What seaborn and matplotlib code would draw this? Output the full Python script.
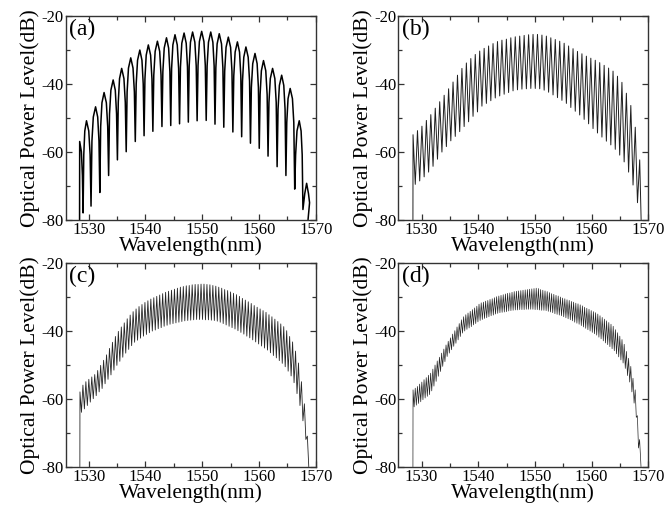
import numpy as np
import pandas as pd
import matplotlib
matplotlib.use("Agg")
import matplotlib.pyplot as plt
from matplotlib.ticker import MultipleLocator
import seaborn as sns

# ---------------- data ----------------
# (a) fringe peaks: wavelength (nm) and level (dB); troughs lie between peaks.
# Shoulder / flank levels are the arch levels read at 1/4 and 2/5 of a fringe from each peak.
a_peak_wl = [1528.4, 1529.6, 1531.2, 1532.7, 1534.3, 1535.8, 1537.4, 1539.0, 1540.5,
             1542.1, 1543.7, 1545.2, 1546.8, 1548.3, 1549.9, 1551.5, 1553.0, 1554.6,
             1556.2, 1557.7, 1559.3, 1560.8, 1562.4, 1564.0, 1565.5, 1567.1, 1568.4]
a_peak_db = [-57.0, -50.9, -46.8, -42.6, -38.9, -35.5, -32.4, -30.1, -28.6, -27.5,
             -26.5, -25.6, -25.1, -24.8, -24.6, -24.8, -25.3, -26.3, -27.7, -29.2,
             -31.1, -33.2, -35.5, -37.5, -41.4, -50.9, -69.3]
a_shoulder_db = [-60.0, -53.9, -49.8, -45.6, -41.9, -38.5, -35.4, -33.1, -31.6, -30.5,
                 -29.5, -28.6, -28.1, -27.8, -27.6, -27.8, -28.3, -29.3, -30.7, -32.2,
                 -34.1, -36.2, -38.5, -40.5, -44.4, -53.9, -72.3]
a_flank_db = [-67.0, -60.9, -56.8, -52.6, -48.9, -45.5, -42.4, -40.1, -38.6, -37.5,
              -36.5, -35.6, -35.1, -34.8, -34.6, -34.8, -35.3, -36.3, -37.7, -39.2,
              -41.1, -43.2, -45.5, -47.5, -51.4, -60.9, -75.0]
a_trough_db = [-78.0, -76.0, -72.0, -67.0, -62.4, -60.0, -57.0, -55.3, -54.0, -52.6,
               -52.3, -51.8, -51.3, -50.9, -50.8, -51.9, -52.8, -54.2, -55.6, -57.5,
               -59.0, -61.3, -64.4, -67.0, -71.0, -77.0]

# (b) first peak wavelength, fringe spacing, peak and trough levels
b_start, b_fsr = 1528.5, 0.784
b_peak_db = [-55.0, -53.8, -52.5, -50.8, -49.1, -47.2, -45.3, -43.4, -41.5, -39.5,
             -37.5, -35.5, -33.9, -32.6, -31.4, -30.4, -29.6, -28.9, -28.2, -27.6,
             -27.2, -26.9, -26.5, -26.2, -26.0, -25.8, -25.6, -25.5, -25.5, -25.7,
             -26.0, -26.5, -27.0, -27.5, -28.1, -28.9, -29.7, -30.5, -31.2, -31.9,
             -32.5, -33.1, -33.8, -34.6, -35.4, -36.3, -37.8, -39.6, -42.8, -46.4,
             -52.8, -62.4]
b_trough_db = [-69.6, -68.6, -67.4, -66.0, -64.3, -62.2, -60.1, -58.5, -56.8, -55.5,
               -54.1, -52.6, -51.2, -49.6, -48.3, -46.6, -45.8, -45.0, -44.2, -43.6,
               -43.1, -42.6, -42.1, -41.8, -41.6, -41.5, -41.4, -41.4, -41.5, -41.9,
               -42.5, -43.3, -44.1, -44.9, -45.8, -47.0, -48.1, -49.2, -50.5, -51.8,
               -53.2, -54.5, -55.7, -56.9, -58.0, -59.3, -61.0, -63.0, -66.0, -69.8,
               -75.0]

# (c)
c_start, c_fsr = 1528.45, 0.5205
c_peak_db = [-58.0, -56.0, -55.0, -54.3, -53.6, -52.9, -51.7, -50.2, -48.7, -47.1,
             -45.2, -43.4, -41.7, -40.2, -38.9, -37.7, -36.5, -35.4, -34.4, -33.6,
             -32.9, -32.3, -31.7, -31.2, -30.7, -30.3, -29.9, -29.5, -29.1, -28.7,
             -28.4, -28.1, -27.8, -27.5, -27.2, -27.0, -26.8, -26.7, -26.5, -26.4,
             -26.4, -26.3, -26.3, -26.4, -26.5, -26.7, -26.9, -27.2, -27.5, -27.9,
             -28.2, -28.6, -29.0, -29.4, -29.9, -30.5, -31.0, -31.5, -32.0, -32.6,
             -33.1, -33.6, -34.1, -34.6, -35.3, -35.9, -36.6, -37.3, -38.0, -38.8,
             -40.0, -41.7, -43.3, -46.0, -49.5, -55.0, -61.5, -71.0]
c_trough_db = [-64.0, -63.0, -62.0, -61.0, -60.0, -59.1, -58.0, -57.0, -55.6, -54.3,
               -53.0, -51.6, -50.2, -49.0, -47.8, -46.6, -45.5, -44.4, -43.4, -42.8,
               -42.2, -41.6, -41.1, -40.6, -40.1, -39.8, -39.4, -39.1, -38.7, -38.4,
               -38.1, -37.9, -37.7, -37.5, -37.3, -37.1, -37.0, -36.9, -36.8, -36.7,
               -36.7, -36.7, -36.8, -36.8, -36.9, -37.0, -37.2, -37.5, -37.9, -38.3,
               -38.7, -39.1, -39.5, -40.0, -40.5, -41.0, -41.6, -42.1, -42.7, -43.3,
               -43.9, -44.5, -45.1, -45.7, -46.5, -47.3, -48.0, -48.8, -49.6, -50.6,
               -51.9, -53.3, -55.3, -58.5, -62.0, -66.5, -72.0]

# (d)
d_start, d_fsr = 1528.5, 0.388
d_peak_db = [-57.4, -56.9, -56.4, -55.7, -55.1, -54.4, -53.8, -53.1, -52.5, -51.3,
             -50.1, -48.9, -47.8, -46.6, -45.4, -44.2, -43.1, -42.1, -41.0, -40.0,
             -38.9, -37.9, -36.8, -35.9, -35.3, -34.8, -34.3, -33.8, -33.3, -32.8,
             -32.2, -31.8, -31.6, -31.3, -31.1, -30.8, -30.6, -30.3, -30.0, -29.8,
             -29.6, -29.4, -29.2, -29.0, -28.9, -28.7, -28.5, -28.4, -28.3, -28.2,
             -28.1, -28.0, -27.9, -27.8, -27.7, -27.6, -27.5, -27.6, -27.9, -28.1,
             -28.3, -28.5, -28.8, -29.1, -29.3, -29.6, -29.8, -30.1, -30.4, -30.6,
             -30.9, -31.1, -31.4, -31.6, -31.9, -32.1, -32.4, -32.7, -33.1, -33.4,
             -33.7, -34.1, -34.4, -34.7, -35.1, -35.6, -36.1, -36.6, -37.1, -37.6,
             -38.1, -38.7, -39.7, -40.6, -41.6, -42.6, -44.0, -46.1, -48.1, -50.5,
             -54.0, -57.4, -65.0, -72.0]
d_trough_db = [-62.4, -61.9, -61.4, -60.9, -60.3, -59.8, -59.3, -58.8, -57.7, -56.3,
               -54.9, -53.4, -52.0, -50.5, -49.1, -47.6, -46.6, -45.6, -44.6, -43.7,
               -42.7, -41.7, -40.7, -40.1, -39.6, -39.2, -38.8, -38.3, -37.9, -37.4,
               -37.0, -36.7, -36.4, -36.2, -35.9, -35.6, -35.4, -35.1, -34.9, -34.7,
               -34.6, -34.5, -34.4, -34.2, -34.1, -34.0, -33.9, -33.9, -33.8, -33.8,
               -33.8, -33.7, -33.7, -33.7, -33.7, -33.8, -33.8, -33.9, -34.0, -34.0,
               -34.1, -34.3, -34.5, -34.7, -35.0, -35.2, -35.4, -35.6, -35.9, -36.2,
               -36.5, -36.8, -37.1, -37.5, -37.8, -38.1, -38.5, -38.9, -39.3, -39.7,
               -40.1, -40.5, -40.9, -41.3, -41.9, -42.4, -43.0, -43.6, -44.1, -44.7,
               -45.3, -45.9, -46.8, -47.7, -48.6, -49.5, -51.1, -53.2, -55.1, -58.0,
               -61.3, -65.5, -74.5]

panel_labels = ["(a)", "(b)", "(c)", "(d)"]
x_ticks = [1530, 1540, 1550, 1560, 1570]
y_ticks = [-80, -60, -40, -20]
FLOOR = -80.0


def spectrum_frame(peak_wl, peak_db, trough_db, shoulder_db=None, flank_db=None):
    """Polyline: vertical rise at the start, fringes peak->trough, drop at the end."""
    wl = np.asarray(peak_wl, dtype=float)
    n = len(wl)
    xs, ys = [wl[0] - 0.02], [FLOOR]
    for i in range(n):
        dl = wl[i] - wl[i - 1] if i > 0 else None
        dr = wl[i + 1] - wl[i] if i < n - 1 else wl[i] - wl[i - 1]
        if shoulder_db is not None and dl is not None:
            xs += [wl[i] - 0.40 * dl, wl[i] - 0.25 * dl]
            ys += [flank_db[i], shoulder_db[i]]
        xs.append(wl[i]); ys.append(peak_db[i])
        if shoulder_db is not None:
            xs += [wl[i] + 0.25 * dr, wl[i] + 0.40 * dr]
            ys += [shoulder_db[i], flank_db[i]]
        if i < n - 1:
            xs.append((wl[i] + wl[i + 1]) / 2.0); ys.append(trough_db[i])
    xs.append(wl[-1] + 0.25); ys.append(FLOOR)
    return pd.DataFrame({"wl": xs, "db": ys})


def comb(start, fsr, n):
    return start + fsr * np.arange(n)


frames = [
    spectrum_frame(a_peak_wl, a_peak_db, a_trough_db, a_shoulder_db, a_flank_db),
    spectrum_frame(comb(b_start, b_fsr, len(b_peak_db)), b_peak_db, b_trough_db),
    spectrum_frame(comb(c_start, c_fsr, len(c_peak_db)), c_peak_db, c_trough_db),
    spectrum_frame(comb(d_start, d_fsr, len(d_peak_db)), d_peak_db, d_trough_db),
]
line_widths = [1.1, 0.7, 0.6, 0.5]
line_colors = ["black", "#1e1e1e", "#262626", "#262626"]

# ---------------- figure ----------------
sns.set_theme(style="ticks")
plt.rcParams["font.family"] = ["Liberation Serif", "DejaVu Serif"]
plt.rcParams["axes.unicode_minus"] = False

W, H = 665, 507
fig = plt.figure(figsize=(W / 100, H / 100), dpi=100)

boxes = [  # left, right, top, bottom in pixels
    (65.5, 315.7, 15.7, 219.7),
    (398.3, 648.3, 15.7, 219.7),
    (65.5, 315.7, 262.7, 466.7),
    (398.3, 648.3, 262.7, 466.7),
]

for k, (l, r, t, b) in enumerate(boxes):
    ax = fig.add_axes([l / W, 1 - b / H, (r - l) / W, (b - t) / H])
    sns.lineplot(data=frames[k], x="wl", y="db", sort=False, estimator=None,
                 color=line_colors[k], lw=line_widths[k], ax=ax)
    ax.set_xlim(1525.9, 1570)
    ax.set_ylim(-80, -20)
    ax.set_xticks(x_ticks)
    ax.set_yticks(y_ticks)
    ax.xaxis.set_minor_locator(MultipleLocator(5))
    ax.yaxis.set_minor_locator(MultipleLocator(10))
    ax.tick_params(which="both", direction="in", top=True, right=True,
                   color="#333333", width=0.9)
    ax.tick_params(which="major", length=4, labelsize=12, pad=1.5, labelcolor="black")
    ax.tick_params(which="minor", length=3)
    for sp in ax.spines.values():
        sp.set_color("#333333")
        sp.set_linewidth(1.0)
    ax.set_xlabel("Wavelength(nm)", fontsize=15.5, labelpad=-1, color="black")
    ax.set_ylabel("Optical Power Level(dB)", fontsize=15.5, labelpad=1, color="black")
    ax.text(0.015, 0.985, panel_labels[k], transform=ax.transAxes, ha="left",
            va="top", fontsize=17, color="black")

fig.savefig("out.png", dpi=100)
